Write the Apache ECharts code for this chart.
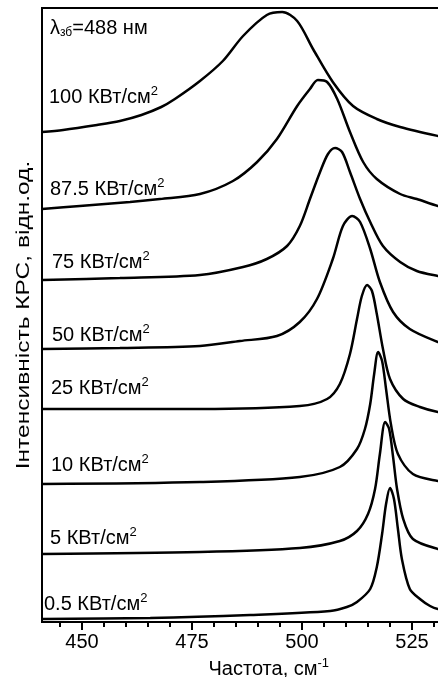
<!DOCTYPE html>
<html>
<head>
<meta charset="utf-8">
<script src="https://cdn.jsdelivr.net/npm/echarts@6/dist/echarts.min.js"></script>
<style>
  html, body { margin: 0; padding: 0; background: #fff; }
  #chart { width: 438px; height: 677px; }
</style>
</head>
<body>
<div id="chart"></div>
<script>
// Raman spectra: [frequency, cm^-1 ; intensity, relative units, stacked with offsets]
const spec100 = [[440.9,490],[445.7,492],[453.4,497],[458.6,501],[463.5,507],[468.0,515],[471.1,523],[476.8,541],[482.0,561],[486.6,586],[492.0,607],[495.5,610],[498.9,601],[502.5,573],[507.0,540],[511.6,516],[517.0,503],[522.3,495],[530.9,486],[533.6,484]];
const spec87 = [[440.9,413],[449.5,416],[460.9,420],[467.7,423],[476.8,428],[484.3,441],[489.8,460],[494.3,483],[498.9,516],[501.8,533],[503.6,542],[505.7,540],[508.0,523],[510.9,490],[513.9,460],[517.0,443],[522.3,428],[526.1,423],[530.9,416],[533.6,414]];
const spec75 = [[440.9,342],[458.6,344],[476.8,347],[486.6,355],[492.0,363],[496.6,376],[499.5,396],[501.8,423],[504.1,450],[505.9,468],[507.5,474],[509.1,470],[510.9,450],[513.2,423],[515.5,400],[518.4,376],[522.3,360],[526.1,351],[530.9,346],[533.6,344]];
const spec50 = [[440.9,273],[458.6,274],[476.8,276],[485.9,281],[494.3,286],[499.5,300],[503.4,323],[507.0,363],[509.3,396],[511.4,406],[513.2,400],[515.5,373],[517.7,340],[520.7,310],[524.5,293],[530.9,280],[533.6,277]];
const spec25 = [[440.9,213],[458.6,213],[476.8,213],[499.5,216],[505.7,223],[508.6,238],[510.9,268],[512.5,303],[513.6,326],[514.8,337],[515.9,331],[517.0,308],[518.4,273],[520.0,243],[523.0,223],[526.8,215],[530.9,210],[533.6,209]];
const spec10 = [[440.9,138],[476.8,140],[499.5,145],[508.6,155],[512.5,173],[514.3,193],[515.5,218],[516.4,248],[517.3,270],[518.2,261],[519.1,233],[520.2,198],[521.8,168],[525.2,148],[530.9,141],[533.6,140]];
const spec5 = [[440.9,68],[476.8,70],[499.5,74],[508.6,81],[512.5,91],[515.0,108],[516.6,133],[517.7,168],[518.9,200],[519.8,193],[520.7,165],[521.6,133],[523.0,103],[525.2,83],[530.9,73],[533.6,72]];
const spec05 = [[440.9,3],[465.5,4],[488.2,7],[506.4,11],[510.2,15],[512.5,20],[515.5,33],[517.0,55],[518.2,88],[519.1,118],[520.0,134],[520.9,123],[521.8,93],[522.7,63],[524.5,33],[526.8,23],[529.1,16],[530.9,13],[533.6,12]];

const spectra = [spec100, spec87, spec75, spec50, spec25, spec10, spec5, spec05];
const powers = ['100', '87.5', '75', '50', '25', '10', '5', '0.5'];

const majorTicks = [450, 475, 500, 525];
const minorTicks = [445, 455, 460, 465, 470, 480, 485, 490, 495, 505, 510, 515, 520, 530, 535, 540];

// label placement (left, vertical centre) in pixels
const labelPos = [[49, 97], [50, 189], [52, 262], [52, 335], [51, 388], [51, 465], [50, 538], [44, 604]];

const FONT = "'Liberation Sans', Arial, sans-serif";
const chart = echarts.init(document.getElementById('chart'), null, { renderer: 'canvas' });

const richText = {
  t: { fontSize: 20, fontFamily: FONT, color: '#000' },
  s: { fontSize: 13, fontFamily: FONT, color: '#000', padding: [0, 0, 12, 0] },
  b: { fontSize: 12, fontFamily: FONT, color: '#000', padding: [10, 0, 0, 0] }
};

const graphics = powers.map((p, i) => ({
  type: 'text',
  x: labelPos[i][0],
  y: labelPos[i][1],
  silent: true,
  style: {
    text: '{t|' + p + ' КВт/см}{s|2}',
    rich: richText,
    verticalAlign: 'middle',
    align: 'left'
  }
}));
graphics.push({
  type: 'text',
  x: 50,
  y: 28,
  silent: true,
  style: {
    text: '{t|λ}{b|зб}{t|=488 нм}',
    rich: richText,
    verticalAlign: 'middle',
    align: 'left'
  }
});
// vertical axis title, drawn stretched along its reading direction
graphics.push({
  type: 'text',
  x: 24,
  y: 315,
  rotation: Math.PI / 2,
  scaleX: 1.29,
  silent: true,
  style: {
    text: 'Інтенсивність КРС, відн.од.',
    fontSize: 19,
    fontFamily: FONT,
    fill: '#000',
    align: 'center',
    verticalAlign: 'middle'
  }
});

chart.setOption({
  animation: false,
  backgroundColor: '#fff',
  grid: {
    left: 42, top: 8, bottom: 55, width: 453.6,
    outerBoundsMode: 'none',
    containLabel: false,
    show: true, borderColor: '#000', borderWidth: 2, backgroundColor: 'transparent'
  },
  xAxis: [
    {
      type: 'value', min: 440.9, max: 544,
      position: 'bottom',
      axisLine: { show: true, lineStyle: { color: '#000', width: 2 } },
      axisTick: { show: true, inside: false, length: 8, customValues: majorTicks, lineStyle: { color: '#000', width: 2 } },
      axisLabel: { show: true, customValues: majorTicks, margin: 10, fontSize: 20, fontFamily: FONT, color: '#000' },
      splitLine: { show: false },
      name: '{t|Частота, см}{s|-1}',
      nameLocation: 'middle',
      nameGap: 33,
      nameTextStyle: { rich: richText }
    },
    {
      type: 'value', min: 440.9, max: 544,
      position: 'bottom',
      axisLine: { show: false },
      axisTick: { show: true, inside: false, length: 5, customValues: minorTicks, lineStyle: { color: '#000', width: 2 } },
      axisLabel: { show: false },
      splitLine: { show: false }
    }
  ],
  yAxis: {
    type: 'value', min: 0, max: 614,
    axisLine: { show: false },
    axisTick: { show: false },
    axisLabel: { show: false },
    splitLine: { show: false }
  },
  series: spectra.map((d, i) => ({
    name: powers[i],
    type: 'line',
    data: d,
    showSymbol: false,
    smooth: 0.3,
    silent: true,
    lineStyle: { color: '#000', width: 2.5 }
  })),
  graphic: graphics
});
</script>
</body>
</html>
